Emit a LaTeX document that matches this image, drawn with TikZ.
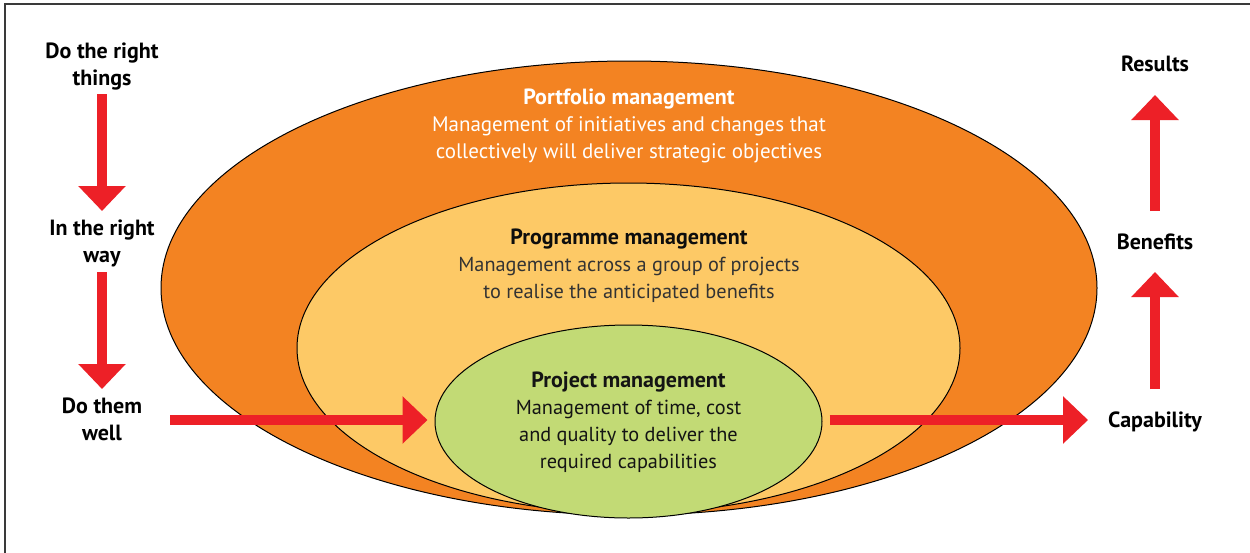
\documentclass[tikz,border=0pt]{standalone}
\usepackage{fontspec}
\setmainfont{PT Sans}
\usetikzlibrary{arrows.meta,shapes.geometric}
\definecolor{portfolio}{HTML}{F38322}
\definecolor{programme}{HTML}{FDC966}
\definecolor{project}{HTML}{C2DA75}
\definecolor{arrowred}{HTML}{ED2027}
\definecolor{frame}{HTML}{3A3A3A}
\newcommand{\ringtitle}[1]{{\fontsize{22}{26.7}\selectfont\bfseries #1}}
\tikzset{
  ring/.style={ellipse, draw=black, line width=1pt, inner sep=0pt},
  sidelabel/.style={align=center, anchor=base, inner sep=0pt,
    font=\fontsize{22}{26.5}\selectfont\bfseries, text=black},
  heading/.style={align=center, anchor=base, inner sep=0pt,
    font=\fontsize{20.3}{26.7}\selectfont},
  bigarrow/.style={draw=arrowred, line width=10.5pt,
    -{Triangle[width=46pt,length=25pt]}, arrowred}
}
\begin{document}
\begin{tikzpicture}[x=1pt,y=-1pt]
\useasboundingbox (0,0) rectangle (1250,552);
\clip (0,0) rectangle (1250,552);
\fill[white] (0,0) rectangle (1250,552);
\draw[frame, line width=1.3pt] (5,4) rectangle (1270,570);

% ellipses
\node[ring, fill=portfolio, minimum width=936pt, minimum height=454pt] (portfolio) at (629,288) {};
\node[ring, fill=programme, minimum width=663pt, minimum height=330pt] (programme) at (628.5,348) {};
\node[ring, fill=project, minimum width=387pt, minimum height=193pt] (project) at (628.5,421.5) {};

% ellipse texts (base = baseline of last line)
\node[heading, text=white, font=\fontsize{21}{26.7}\selectfont] (portfoliotext) at (629,158)
  {\ringtitle{Portfolio management}\\Management of initiatives and changes that\\collectively will deliver strategic objectives};
\node[heading, text=black!80] (programmetext) at (629,298)
  {\ringtitle{\color{black!95}Programme management}\\Management across a group of projects\\to realise the anticipated benefits};
\node[heading, text=black!92] (projecttext) at (628.5,468)
  {\ringtitle{Project management}\\Management of time, cost\\and quality to deliver the\\required capabilities};

% left labels
\node[sidelabel] (rightthings) at (102,85) {Do the right\\things};
\node[sidelabel] (rightway) at (102,262) {In the right\\way};
\node[sidelabel] (well) at (102,440) {Do them\\well};

% right labels
\node[sidelabel] (results) at (1155,71) {Results};
\node[sidelabel] (benefits) at (1155,249) {Benefits};
\node[sidelabel] (capability) at (1155,427) {Capability};

% arrows
\draw[bigarrow] (rightthings.south |- 0,94) -- (rightway.north |- 0,211);
\draw[bigarrow] (rightway.south |- 0,272) -- (well.north |- 0,389);
\draw[bigarrow, shorten <=28pt, shorten >=7pt] (well.east |- 0,420) -- (project.west |- 0,420);
\draw[bigarrow, shorten <=7pt, shorten >=20pt] (project.east |- 0,420) -- (capability.west |- 0,420);
\draw[bigarrow] (capability.north |- 0,389) -- (benefits.south |- 0,272);
\draw[bigarrow] (benefits.north |- 0,211) -- (results.south |- 0,95);
\end{tikzpicture}
\end{document}
